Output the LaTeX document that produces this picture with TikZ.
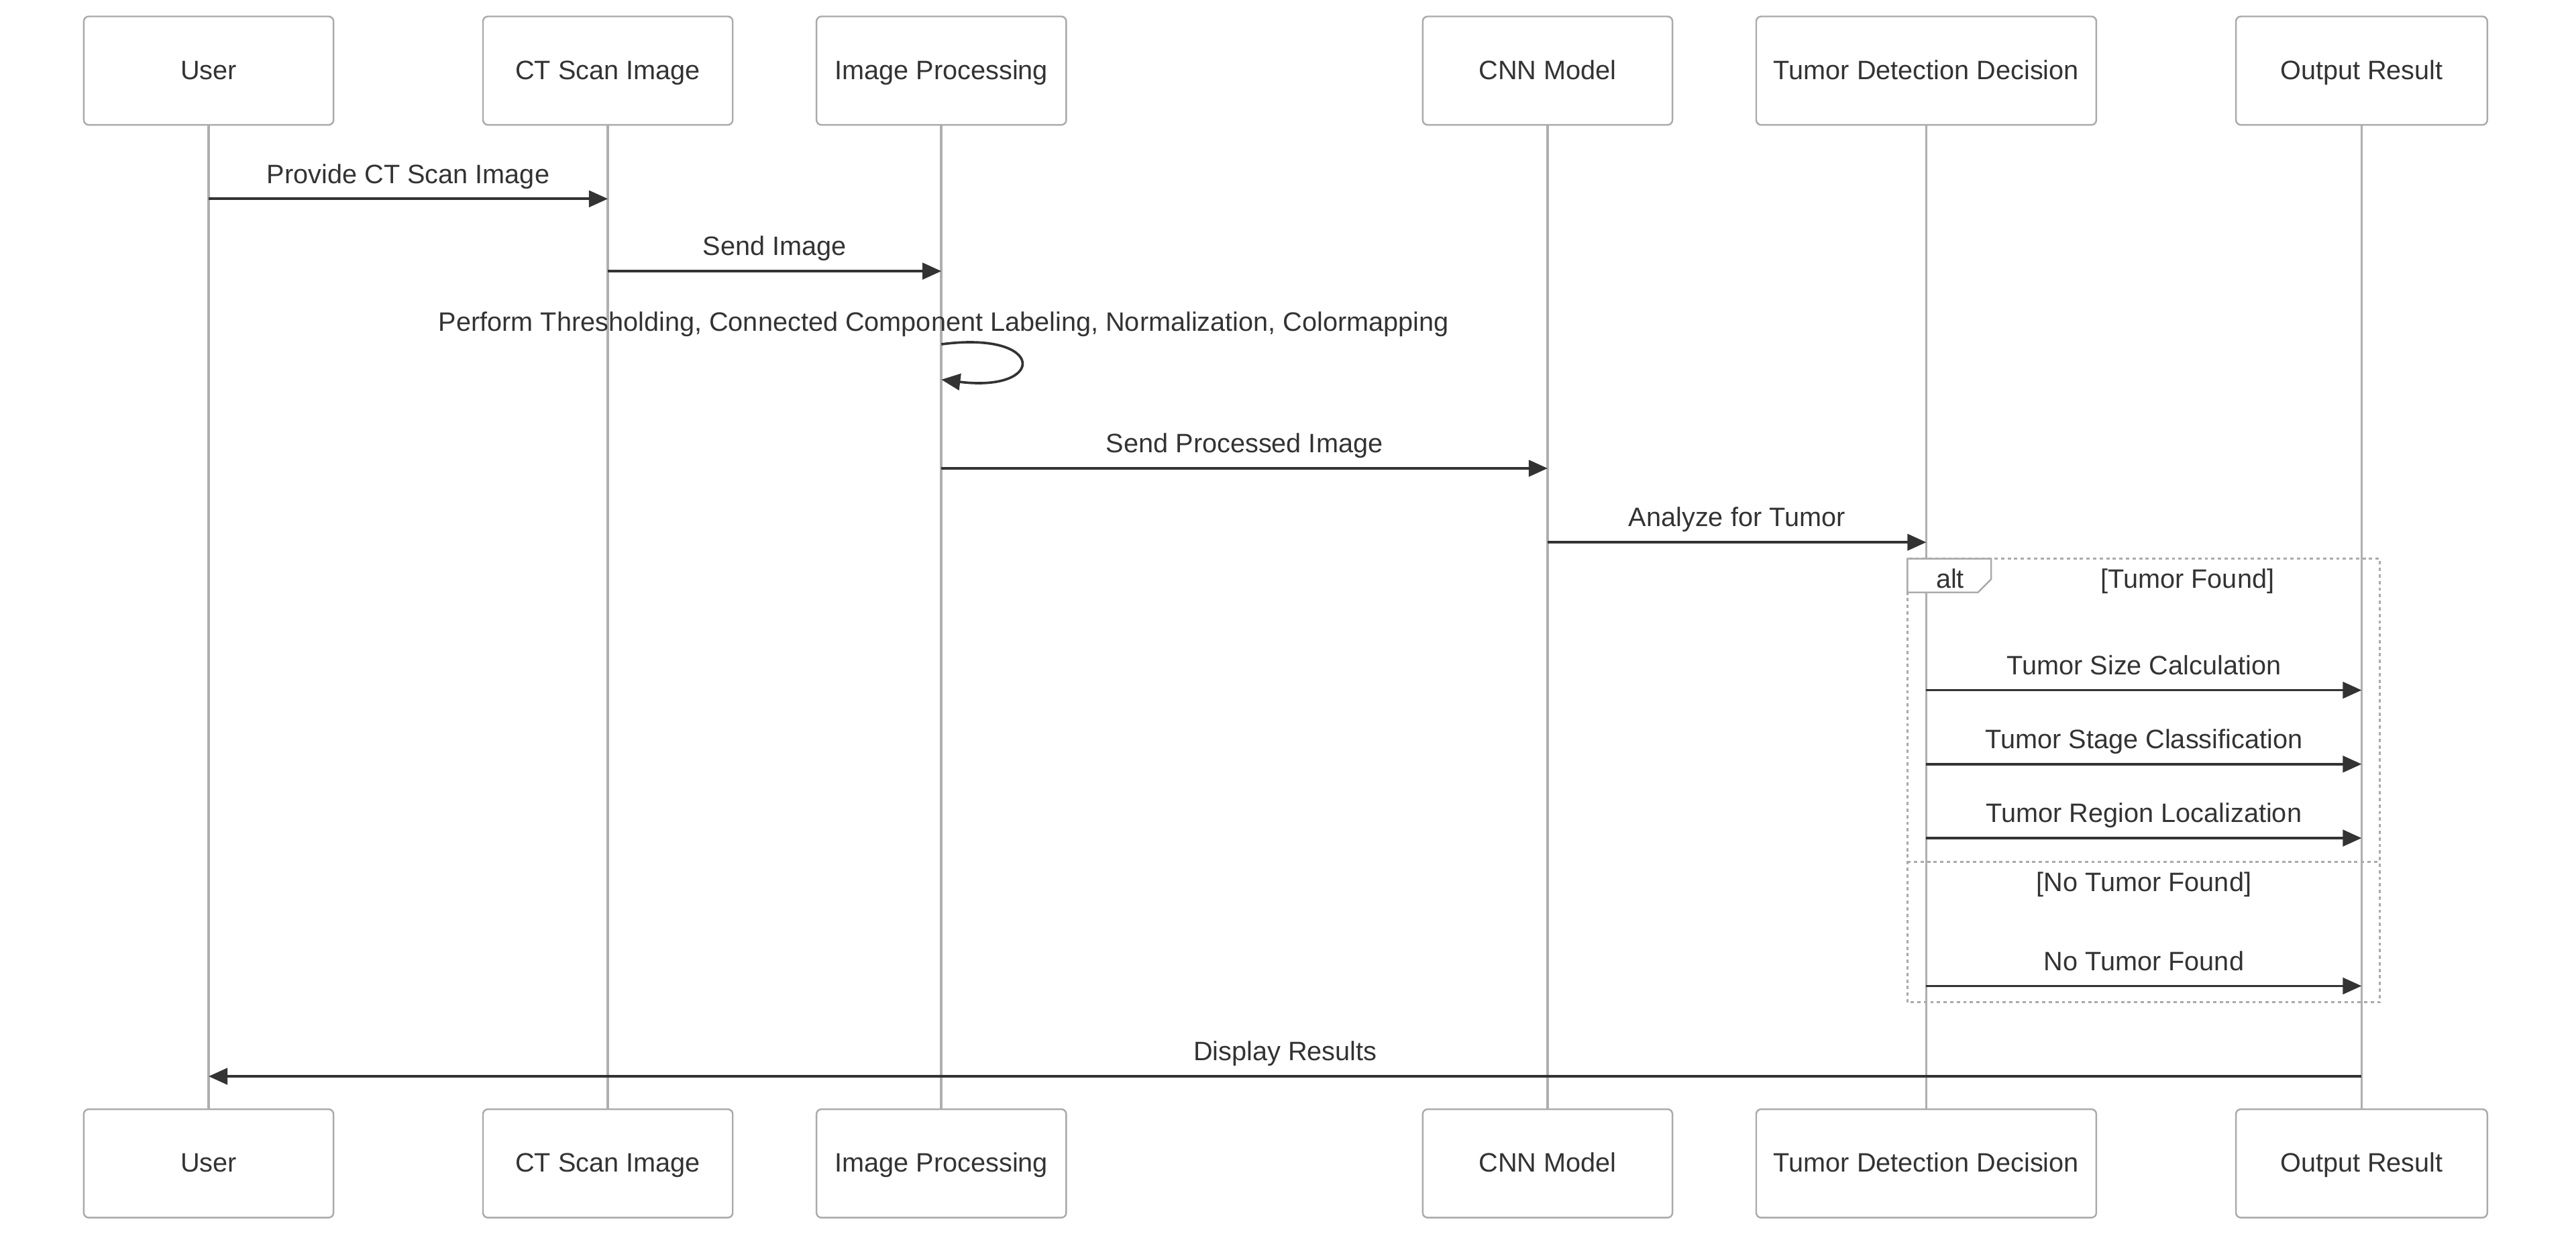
\documentclass[tikz,border=0pt]{standalone}
\usepackage{fontspec}
\setmainfont{Liberation Sans}
\usetikzlibrary{arrows.meta}
\definecolor{inkgray}{HTML}{333333}
\definecolor{linegray}{HTML}{AFAFAF}
\definecolor{boxgray}{HTML}{AAAAAA}

\begin{document}
\begin{tikzpicture}[x=1pt, y=-1pt,
    actor/.style={draw=boxgray, line width=1pt, fill=white, rounded corners=3pt, minimum height=66pt, text height=14pt, text depth=3.4pt, text=inkgray, font=\fontsize{16.2}{19}\selectfont},
    lifeline/.style={draw=linegray, line width=1.5pt},
    msg/.style={draw=inkgray, line width=1.5pt, -{Triangle[length=11.5pt,width=10pt]}},
    msglabel/.style={text=inkgray, font=\fontsize{16.2}{19}\selectfont, inner sep=0pt, anchor=base},
    altframe/.style={draw=boxgray, line width=1.2pt, dash pattern=on 2pt off 2pt}]
    \useasboundingbox (0,0) rectangle (1568,754.2);

    % participants, top and bottom, with their lifelines
    \foreach \nm/\xx/\ww/\txt in {usr/127/152/User, ct/370/152/CT Scan Image, ip/573/152/Image Processing,
        cnn/942/152/CNN Model, tdd/1172.5/207/Tumor Detection Decision, out/1437.5/153/Output Result} {
      \node[actor, minimum width=\ww pt] (\nm T) at (\xx,43) {\txt};
      \node[actor, minimum width=\ww pt] (\nm B) at (\xx,708) {\txt};
      \draw[lifeline] (\nm T) -- (\nm B);
    }

    \draw[msg] (usrT |- 0,121) -- (ctT |- 0,121) node[msglabel, midway, yshift=9.5pt] (m1) {Provide CT Scan Image};
    \draw[msg] (ctT |- 0,165) -- (ipT |- 0,165) node[msglabel, midway, yshift=9.5pt] (m2) {Send Image};

    % self call
    \node[msglabel] (m3) at (574.5,201.5) {Perform Thresholding, Connected Component Labeling, Normalization, Colormapping};
    \draw[msg] (ipT |- 0,209.5) .. controls (637,201) and (637,239) .. (ipT |- 0,231);

    \draw[msg] (ipT |- 0,285) -- (cnnT |- 0,285) node[msglabel, midway, yshift=9.5pt] (m4) {Send Processed Image};
    \draw[msg] (cnnT |- 0,330) -- (tddT |- 0,330) node[msglabel, midway, yshift=9.5pt] (m5) {Analyze for Tumor};

    % alt block
    \draw[altframe] (1161,340) rectangle (1448.5,610);
    \draw[altframe] (1161,524.5) -- (1448.5,524.5);
    \draw[draw=boxgray, line width=1pt, fill=white] (1161,340) -- (1212,340) -- (1212,352.5) -- (1204,360.5) -- (1161,360.5) -- cycle;
    \node[msglabel] (altlbl) at (1187,357.7) {alt};
    \node[msglabel] (yes) at (1331.5,357.8) {[Tumor Found]};
    \node[msglabel] (no) at (1305,542.5) {[No Tumor Found]};

    \draw[msg] (tddT |- 0,420) -- (outT |- 0,420) node[msglabel, midway, yshift=9.5pt] (m6) {Tumor Size Calculation};
    \draw[msg] (tddT |- 0,465) -- (outT |- 0,465) node[msglabel, midway, yshift=9.5pt] (m7) {Tumor Stage Classification};
    \draw[msg] (tddT |- 0,510) -- (outT |- 0,510) node[msglabel, midway, yshift=9.5pt] (m8) {Tumor Region Localization};
    \draw[msg] (tddT |- 0,600) -- (outT |- 0,600) node[msglabel, midway, yshift=9.5pt] (m9) {No Tumor Found};

    \draw[msg] (outT |- 0,655) -- (usrT |- 0,655) node[msglabel, midway, yshift=9.5pt] (m10) {Display Results};
  \end{tikzpicture}
\end{document}
